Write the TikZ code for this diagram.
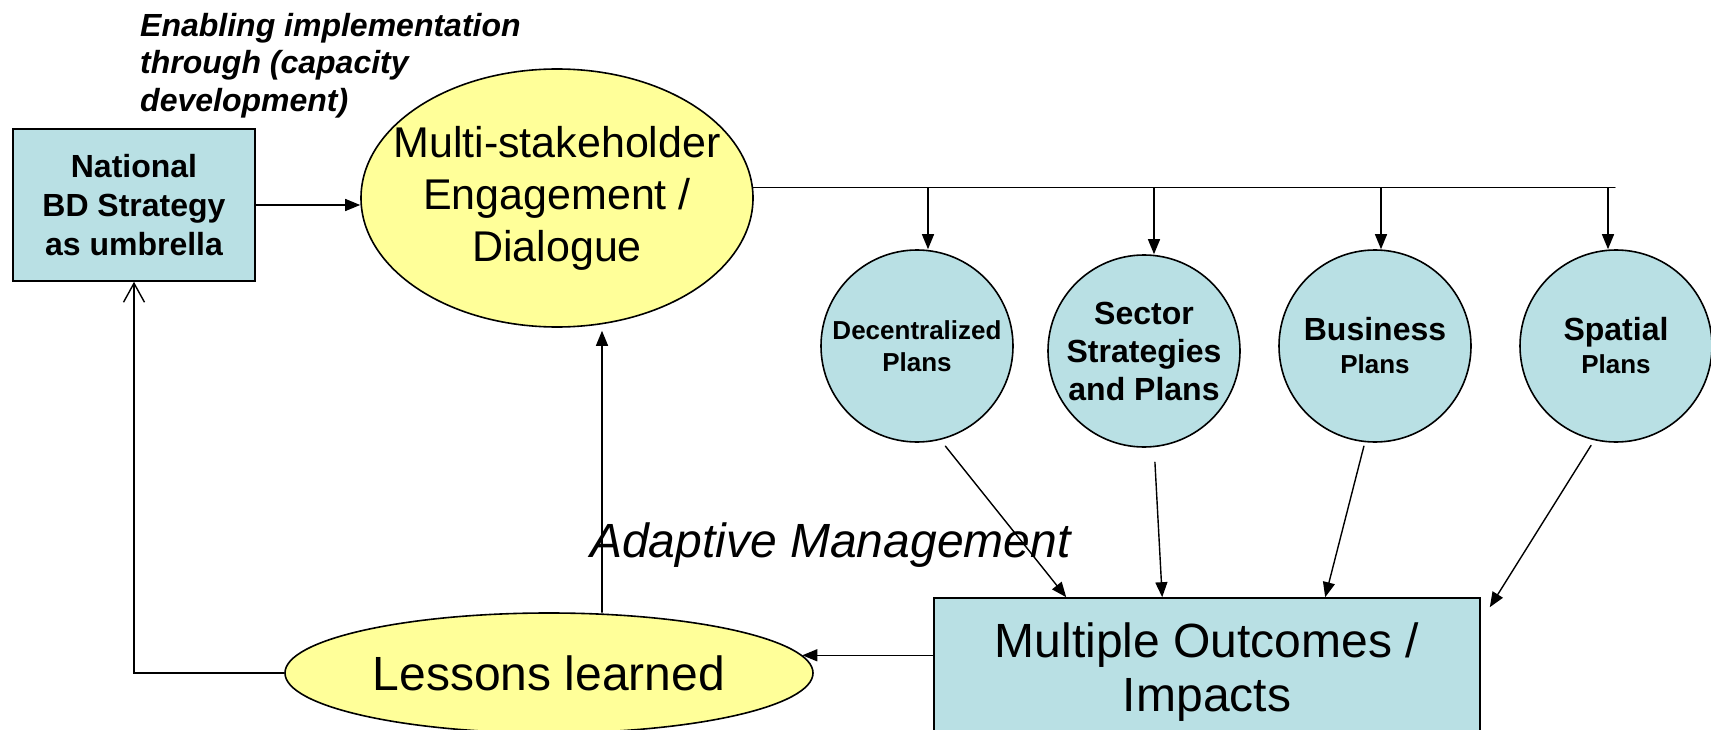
\documentclass[tikz,border=0pt]{standalone}
\usepackage{fontspec}
\setmainfont{Liberation Sans}
\usetikzlibrary{arrows.meta,shapes.geometric}
\definecolor{planblue}{RGB}{185,224,228}
\definecolor{talkyellow}{RGB}{255,255,153}

\begin{document}
\begin{tikzpicture}[x=1pt,y=-1pt,line cap=round]
  % Tunables
  \def\lw{1.6pt}      % outline width
  \def\cw{1.4pt}      % connector width
  \def\pr{192pt}      % diameter of the plan circles

  \tikzset{
    outline/.style={draw,line width=\lw,inner sep=0pt},
    bluebox/.style={outline,fill=planblue,align=center},
    talk/.style={outline,ellipse,fill=talkyellow,align=center},
    plan/.style={outline,circle,fill=planblue,minimum size=\pr,align=center,
      font=\bfseries\fontsize{32}{38}\selectfont},
    feed/.style={line width=\cw,-{Triangle[length=15pt,width=12pt]}},
  }

  \useasboundingbox (0,0) rectangle (1711,730);

  % Left side
  \node[anchor=north west,align=left,inner sep=0pt,
    font=\bfseries\itshape\fontsize{32}{37.5}\selectfont]
    (enabling) at (140,13) {Enabling implementation\\through (capacity\\development)};
  \node[bluebox,minimum width=242pt,minimum height=152pt,
    font=\bfseries\fontsize{32}{39}\selectfont]
    (national) at (134,205) {National\\BD Strategy\\as umbrella};
  \node[talk,inner xsep=-30pt,minimum width=392pt,minimum height=258pt,
    font=\fontsize{43}{52}\selectfont]
    (engage) at (557,198) {Multi-stakeholder\\Engagement /\\Dialogue};

  % Plans
  \node[plan,font=\bfseries\fontsize{26}{32}\selectfont] (dec) at (917,346) {Decentralized\\Plans};
  \node[plan] (sec) at (1144,351) {Sector\\Strategies\\and Plans};
  \node[plan] (bus) at (1375,346) {Business\\[-5pt]{\fontsize{26}{31}\selectfont Plans}};
  \node[plan] (spa) at (1616,346) {Spatial\\[-5pt]{\fontsize{26}{31}\selectfont Plans}};

  % Bottom
  \node[bluebox,minimum width=546pt,minimum height=148pt,font=\fontsize{48}{54}\selectfont]
    (outcomes) at (1207,672) {Multiple Outcomes /\\Impacts};
  \node[talk,minimum width=528pt,minimum height=120pt,font=\fontsize{48}{55}\selectfont]
    (lessons) at (549,673) {Lessons learned};
  \node[anchor=base west,inner sep=0pt,font=\itshape\fontsize{48}{55}\selectfont]
    (adaptive) at (590,557) {Adaptive Management};

  % Connectors
  \draw[feed] (national.east) -- (national.east -| engage.west);
  \coordinate (busend) at (1615,189);
  \draw[line width=\cw] (engage.3) -- (engage.3 -| busend);
  \foreach \p/\dx in {dec/11,sec/10,bus/6,spa/-8}{
    \coordinate (\p-top) at ([xshift=\dx pt]\p.north);
    \draw[feed] (engage.3 -| \p-top) -- (\p-top);
  }
  \foreach \p/\ang/\gap/\off in {dec/-76/8/133,sec/-84/15/229,bus/-96/4/392}
    \draw[feed,shorten <=\gap pt] (\p.\ang) -- ([xshift=\off pt]outcomes.north west);
  \draw[feed,shorten <=6pt] (spa.-103) -- ([xshift=9pt,yshift=-10pt]outcomes.north east);
  \draw[feed] (lessons.4 -| outcomes.west) -- (lessons.4);
  \coordinate (loop) at (602,0);
  \draw[feed,shorten >=3pt] (loop |- lessons.north) -- (loop |- engage.south);
  \draw[line width=\cw,-{Straight Barb[length=19pt,width=21pt]}] (lessons.west) -| (national.south);
\end{tikzpicture}
\end{document}
